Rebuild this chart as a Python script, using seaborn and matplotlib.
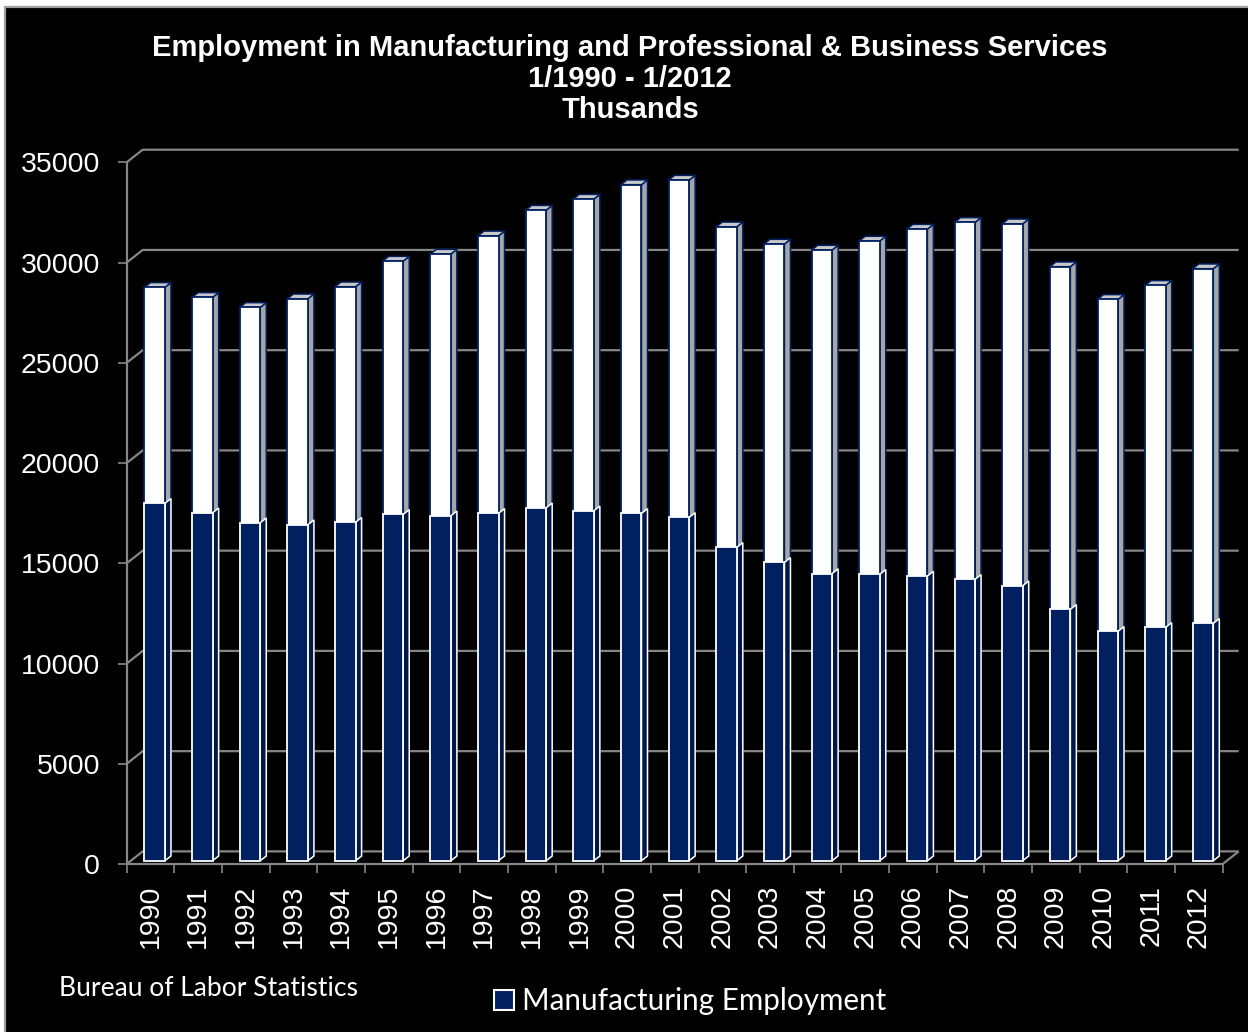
import matplotlib
matplotlib.use("Agg")
import matplotlib.pyplot as plt
import numpy as np
import pandas as pd
import seaborn as sns
from matplotlib.patches import Polygon, Rectangle, Patch
from matplotlib.ticker import FixedLocator

# ---- data (thousands of jobs, January of each year) ----
years = [str(y) for y in range(1990, 2013)]
manufacturing = [17825, 17355, 16860, 16760, 16880, 17275, 17205, 17325, 17605, 17455,
                 17325, 17125, 15630, 14880, 14325, 14285, 14200, 14035, 13715, 12540,
                 11440, 11640, 11840]
prof_business = [10775, 10745, 10740, 11270, 11750, 12635, 13055, 13845, 14845, 15545,
                 16395, 16825, 15990, 15880, 16135, 16625, 17305, 17805, 18055, 17090,
                 16560, 17060, 17690]
y_ticks = [0, 5000, 10000, 15000, 20000, 25000, 30000, 35000]

title_lines = ["Employment in Manufacturing and Professional & Business Services",
               "1/1990 - 1/2012",
               "Thusands"]
source_note = "Bureau of Labor Statistics"
legend_label = "Manufacturing Employment"

# ---- style ----
NAVY = "#002060"
NAVY_SIDE = "#001848"
GRID = "#868686"
SIDE_GRAY = "#a6a6a6"
CAP_GRAY = "#c8c8c8"
FRAME = "#a0a0a0"

W, H, DPI = 1248, 1032, 100

sns.set_theme(style="dark", rc={"axes.facecolor": "black", "figure.facecolor": "white"})
plt.rcParams["font.family"] = ["Liberation Sans", "DejaVu Sans"]

fig = plt.figure(figsize=(W / DPI, H / DPI), dpi=DPI)
fig.patch.set_facecolor("white")

# black chart area with a thin grey frame
fig.add_artist(Rectangle((5 / W, -0.02), 1.05, (H - 7) / H + 0.02, transform=fig.transFigure,
                         facecolor="black", edgecolor=FRAME, linewidth=1.6, zorder=0))

# axes occupy the front plane of the pseudo-3D box
ax_left, ax_bottom_px, ax_w_px, ax_h_px = 126.7, 864.0, 1096.0, 701.7
ax = fig.add_axes([ax_left / W, (H - ax_bottom_px) / H, ax_w_px / W, ax_h_px / H])
ax.set_facecolor("none")

n = len(years)
ymax = y_ticks[-1]
px_x = ax_w_px / n          # pixels per category
px_y = ax_h_px / ymax       # pixels per unit value


def dx(px):
    return px / px_x


def dy(px):
    return px / px_y


df = pd.DataFrame({"year": years,
                   "Manufacturing": manufacturing,
                   "Professional & Business Services": prof_business})
df["total"] = df["Manufacturing"] + df["Professional & Business Services"]

bar_w = 0.43
sns.barplot(data=df, x="year", y="total", color="white", width=bar_w, saturation=1,
            edgecolor=NAVY, linewidth=1.3, errorbar=None, ax=ax, zorder=3)
n_total = len(ax.patches)
sns.barplot(data=df, x="year", y="Manufacturing", color=NAVY, width=bar_w, saturation=1,
            edgecolor="white", linewidth=1.3, errorbar=None, ax=ax, zorder=5)
total_bars = ax.patches[:n_total]
manu_bars = ax.patches[n_total:]

ax.set_xlim(-0.5, n - 0.5)
ax.set_ylim(0, ymax)

# depth offsets (screen pixels)
front_x, front_y = dx(4.2), dy(3.3)     # bars sit slightly behind the front edge
bar_dx, bar_dy = dx(6.0), dy(4.7)       # bar depth
wall_dx, wall_dy = dx(16.0), dy(12.6)   # back wall depth


def add_depth(rect, side_color, edge_color, z, cap=False):
    rect.set_x(rect.get_x() + front_x)
    rect.set_y(rect.get_y() + front_y)
    x0, y0 = rect.get_x(), rect.get_y()
    x1, y1 = x0 + rect.get_width(), y0 + rect.get_height()
    ax.add_patch(Polygon([(x1, y0), (x1 + bar_dx, y0 + bar_dy), (x1 + bar_dx, y1 + bar_dy), (x1, y1)],
                         closed=True, facecolor=side_color, edgecolor=edge_color,
                         linewidth=1.1, zorder=z, clip_on=False))
    if cap:
        ax.add_patch(Polygon([(x0, y1), (x1, y1), (x1 + bar_dx, y1 + bar_dy), (x0 + bar_dx, y1 + bar_dy)],
                             closed=True, facecolor=CAP_GRAY, edgecolor=edge_color,
                             linewidth=1.1, zorder=z, clip_on=False))
    rect.set_clip_on(False)


for r in total_bars:
    add_depth(r, SIDE_GRAY, NAVY, 2.9, cap=True)
for r in manu_bars:
    add_depth(r, NAVY_SIDE, "white", 4.9)

# back wall gridlines with their receding side-wall segments
line_kw = dict(color=GRID, linewidth=1.6, zorder=1, clip_on=False, solid_capstyle="butt")
x_lo, x_hi = -0.5, n - 0.5
for v in y_ticks:
    ax.plot([x_lo, x_lo + wall_dx, x_hi + wall_dx], [v, v + wall_dy, v + wall_dy], **line_kw)
# floor front edge, right floor edge and front vertical axis
ax.plot([x_lo, x_hi, x_hi + wall_dx], [0, 0, wall_dy], **line_kw)
ax.plot([x_lo, x_lo], [0, ymax], **line_kw)

for s in ax.spines.values():
    s.set_visible(False)
ax.grid(False)
ax.set_xlabel("")
ax.set_ylabel("")

ax.set_yticks(y_ticks)
ax.set_yticklabels([str(v) for v in y_ticks])
ax.tick_params(axis="y", which="major", left=True, length=6.3, width=1.2, color=GRID,
               pad=13, labelsize=20.5, labelcolor="white")
ax.set_xticks(range(n))
ax.set_xticklabels(years, rotation=90)
ax.xaxis.set_minor_locator(FixedLocator(np.arange(-0.5, n, 1.0)))
ax.tick_params(axis="x", which="major", bottom=True, length=0, pad=15,
               labelsize=20.5, labelcolor="white")
ax.tick_params(axis="x", which="minor", bottom=True, length=6.5, width=1.2, color=GRID)

# title
for text, base in zip(title_lines, [56, 87, 118]):
    fig.text(630 / W, 1 - base / H, text, ha="center", va="baseline", color="white",
             fontsize=21, fontweight="bold")

# source note and legend
fig.text(59 / W, 1 - 996 / H, source_note, ha="left", va="baseline", color="white",
         fontsize=19.1, family=["Lato", "DejaVu Sans"])
handle = Patch(facecolor=NAVY, edgecolor="white", linewidth=1.5, label=legend_label)
fig.legend(handles=[handle], loc="center left", bbox_to_anchor=(494 / W, 1 - 1001 / H),
           frameon=False, borderpad=0, borderaxespad=0, handlelength=0.66, handleheight=0.66,
           handletextpad=0.3, prop={"family": ["Lato", "DejaVu Sans"], "size": 21.3},
           labelcolor="white")

fig.savefig("out.png", dpi=DPI, facecolor=fig.get_facecolor())
